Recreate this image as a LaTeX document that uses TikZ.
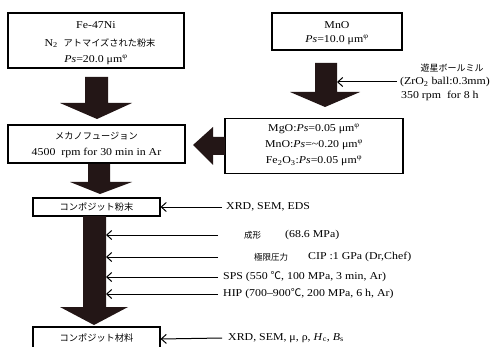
\documentclass[tikz,border=0pt]{standalone}
\usepackage{fontspec}
\usetikzlibrary{arrows.meta}
\setmainfont[FakeStretch=1.13]{Liberation Serif}
\newfontfamily\jp{Noto Sans CJK JP}
\newcommand{\degC}{{\jp ℃}}
\definecolor{arrowfill}{RGB}{35,22,22}
\begin{document}
\begin{tikzpicture}[x=1pt,y=-1pt,
  box/.style={draw,line width=1.1pt,inner sep=0pt},
  thin/.style={line width=1pt,-{Straight Barb[length=5pt,width=9pt]}},
  big/.style={fill=arrowfill,draw=none},
  bt/.style={font=\fontsize{10.5}{12}\selectfont,inner sep=0pt},
  txt/.style={font=\fontsize{10.5}{12}\selectfont,anchor=west,inner sep=0pt},
  jt/.style={font=\jp\fontsize{9.2}{11}\selectfont,inner sep=0pt},
  js/.style={font=\jp\fontsize{8.5}{10}\selectfont,inner sep=0pt,anchor=west}]
\useasboundingbox (0,0) rectangle (502,347);
% boxes
\node[box,minimum width=176pt,minimum height=55pt] (b1) at (96,40.5) {};
\node[bt] (b1a) at (96,25) {Fe-47Ni};
\node[bt] (b1b) at (100,43) {N\textsubscript{2}\ \ {\jp\fontsize{9.2}{11}\selectfont アトマイズされた粉末}};
\node[bt] (b1c) at (96,60) {\textit{Ps}=20.0 μm\textsuperscript{φ}};

\node[box,minimum width=130pt,minimum height=37pt] (b2) at (337,31.5) {};
\node[bt] (b2a) at (337,25) {MnO};
\node[bt] (b2b) at (337,40) {\textit{Ps}=10.0 μm\textsuperscript{φ}};

\node[box,minimum width=177pt,minimum height=38pt] (b3) at (96.5,144) {};
\node[jt] (b3a) at (96.5,136) {メカノフュージョン};
\node[bt] (b3b) at (96.5,153) {4500\ \ rpm for 30 min in Ar};

\node[box,minimum width=178pt,minimum height=55pt] (b4) at (314,146) {};
\node[bt] (b4a) at (314,129) {MgO:\textit{Ps}=0.05 μm\textsuperscript{φ}};
\node[bt] (b4b) at (314,145) {MnO:\textit{Ps}=\textasciitilde 0.20 μm\textsuperscript{φ}};
\node[bt] (b4c) at (314,161) {Fe\textsubscript{2}O\textsubscript{3}:\textit{Ps}=0.05 μm\textsuperscript{φ}};

\node[box,minimum width=127pt,minimum height=18pt] (b5) at (96.5,207) {};
\node[jt] (b5a) at (96.5,207) {コンポジット粉末};

\node[box,minimum width=127pt,minimum height=24pt] (b6) at (96.5,339) {};
\node[jt] (b6a) at (96.5,338) {コンポジット材料};

% big arrows
\fill[big] (85,77) -- (108,77) -- (108,103) -- (132,103) -- (97,119) -- (60,103) -- (85,103) -- cycle;
\fill[big] (315,63) -- (337,63) -- (337,92) -- (360,92) -- (325,107) -- (290,92) -- (315,92) -- cycle;
\fill[big] (225,137) -- (213,137) -- (213,127) -- (193,145) -- (213,165) -- (213,155) -- (225,155) -- cycle;
\fill[big] (88,164) -- (110,164) -- (110,182) -- (132,182) -- (100,194) -- (70,182) -- (88,182) -- cycle;
\fill[big] (83,216) -- (106,216) -- (106,307) -- (128,307) -- (94,325) -- (60,307) -- (83,307) -- cycle;

% thin arrows and labels
\coordinate (m1) at (337,82);
\draw[thin] (397,82) -- (m1);
\node[js,anchor=center,font=\jp\fontsize{9}{10}\selectfont] (l1) at (452,68) {遊星ボールミル};
\node[txt] (l2) at (400,82) {(ZrO\textsubscript{2} ball:0.3mm)};
\node[txt] (l3) at (401,96) {350 rpm\ \ for 8 h};

\node[txt] (x1) at (226,207) {XRD, SEM, EDS};
\draw[thin] (222,207) -- (b5.east);

\coordinate (s1) at (106,235);
\coordinate (s2) at (106,257);
\coordinate (s3) at (106,277);
\coordinate (s4) at (106,294);
\draw[thin] (218,235) -- (s1);
\draw[thin] (218,257) -- (s2);
\draw[thin] (218,277) -- (s3);
\draw[thin] (218,294) -- (s4);
\node[js] (p1) at (244,235) {成形};
\node[txt] (p1b) at (285,235) {(68.6 MPa)};
\node[js] (p2) at (254,257) {極限圧力};
\node[txt] (p2b) at (308,257) {CIP :1 GPa (Dr,Chef)};
\node[txt] (p3) at (223,277) {SPS (550 \degC, 100 MPa, 3 min, Ar)};
\node[txt] (p4) at (223,294) {HIP (700–900\degC, 200 MPa, 6 h, Ar)};

\node[txt] (x2) at (228,338) {XRD, SEM, μ, ρ, \textit{H}\textsubscript{c}, \textit{B}\textsubscript{s}};
\draw[thin] (222,338) -- (b6.east);
\end{tikzpicture}
\end{document}
